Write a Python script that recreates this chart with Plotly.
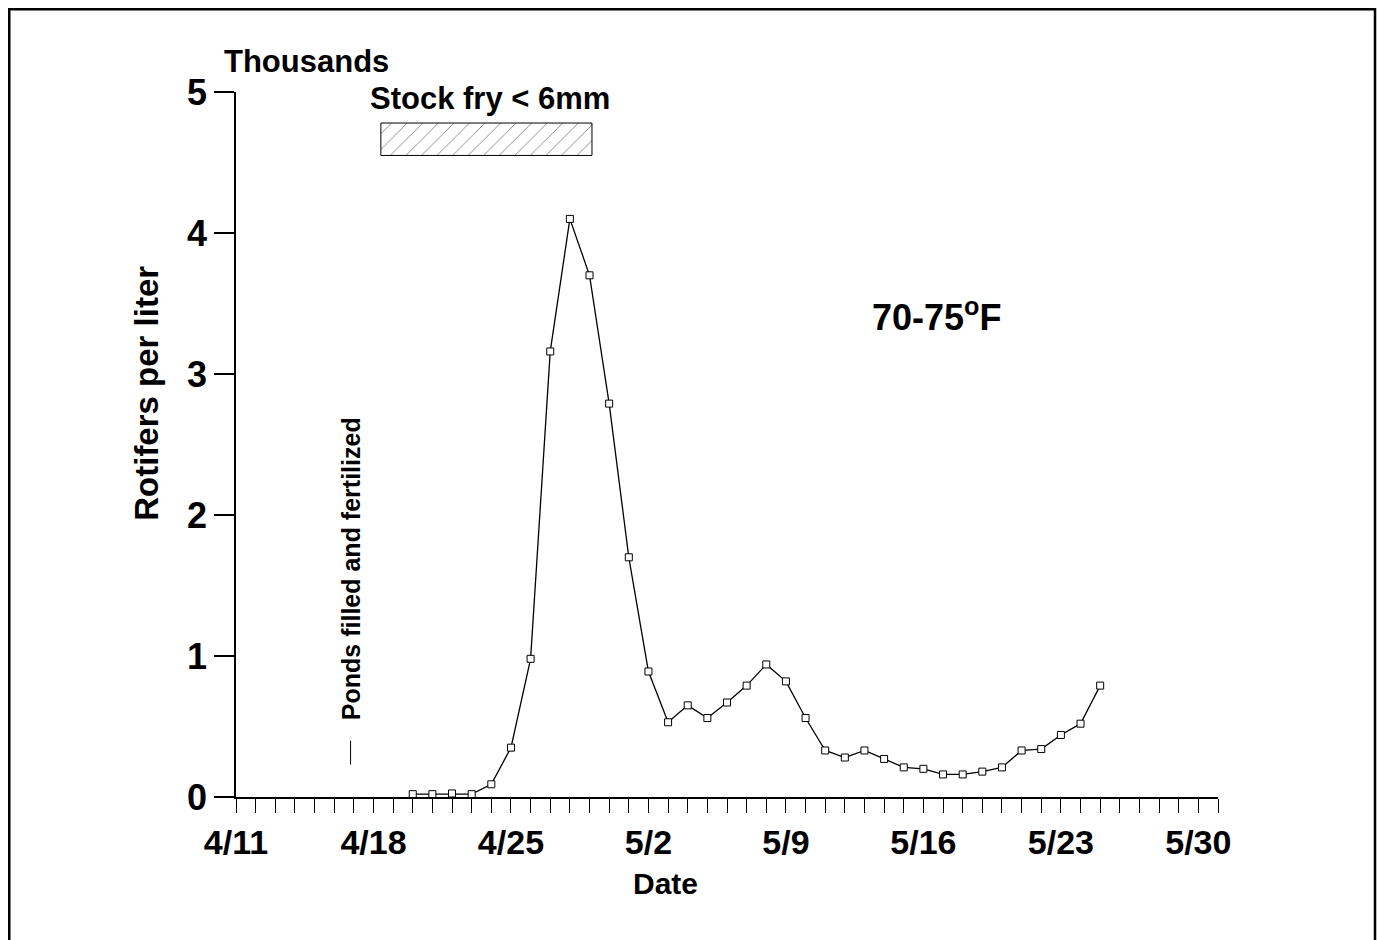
import plotly.graph_objects as go

# ---- data ----
dates = ["2001-04-20", "2001-04-21", "2001-04-22", "2001-04-23", "2001-04-24",
         "2001-04-25", "2001-04-26", "2001-04-27", "2001-04-28", "2001-04-29",
         "2001-04-30", "2001-05-01", "2001-05-02", "2001-05-03", "2001-05-04",
         "2001-05-05", "2001-05-06", "2001-05-07", "2001-05-08", "2001-05-09",
         "2001-05-10", "2001-05-11", "2001-05-12", "2001-05-13", "2001-05-14",
         "2001-05-15", "2001-05-16", "2001-05-17", "2001-05-18", "2001-05-19",
         "2001-05-20", "2001-05-21", "2001-05-22", "2001-05-23", "2001-05-24",
         "2001-05-25"]
rotifers_thousands = [0.02, 0.02, 0.025, 0.02, 0.09,
                      0.35, 0.98, 3.16, 4.10, 3.70,
                      2.79, 1.70, 0.89, 0.53, 0.65,
                      0.56, 0.67, 0.79, 0.94, 0.82,
                      0.56, 0.33, 0.28, 0.33, 0.27,
                      0.21, 0.20, 0.16, 0.16, 0.18,
                      0.21, 0.33, 0.34, 0.44, 0.52,
                      0.79]
x_tick_dates = ["2001-04-11", "2001-04-18", "2001-04-25", "2001-05-02",
                "2001-05-09", "2001-05-16", "2001-05-23", "2001-05-30"]
x_tick_text = ["4/11", "4/18", "4/25", "5/2", "5/9", "5/16", "5/23", "5/30"]
y_tick_vals = [0, 1, 2, 3, 4, 5]
y_tick_text = ["0", "1", "2", "3", "4", "5"]
stock_period = ["2001-04-18 09:00", "2001-04-29 03:00"]
stock_band = [4.55, 4.78]
ponds_filled_date = "2001-04-16 20:00"

FONT = "Liberation Sans, Arial, sans-serif"

fig = go.Figure()

# hatched "stock fry" bar
fig.add_trace(go.Scatter(
    x=[stock_period[0], stock_period[1], stock_period[1], stock_period[0], stock_period[0]],
    y=[stock_band[0], stock_band[0], stock_band[1], stock_band[1], stock_band[0]],
    mode="lines", fill="toself", fillcolor="white",
    fillpattern=dict(shape="/", fgcolor="black", bgcolor="white", size=11, solidity=0.08),
    line=dict(color="black", width=1), hoverinfo="skip", showlegend=False,
))

# data line
fig.add_trace(go.Scatter(
    x=dates, y=rotifers_thousands, mode="lines+markers",
    line=dict(color="black", width=1.3),
    marker=dict(symbol="square", size=7, color="white", line=dict(color="black", width=1)),
    cliponaxis=False, showlegend=False,
))

fig.update_layout(
    width=1378, height=940,
    margin=dict(l=236, r=160, t=92, b=143),
    paper_bgcolor="white", plot_bgcolor="white",
    font=dict(family=FONT, color="black"),
    showlegend=False,
)

fig.update_xaxes(
    type="date", range=["2001-04-11", "2001-05-31"],
    showgrid=False, zeroline=False,
    showline=True, linecolor="black", linewidth=1.5,
    tickmode="array", tickvals=x_tick_dates, ticktext=x_tick_text,
    ticks="outside", ticklen=14, tickwidth=1, tickcolor="black",
    tickfont=dict(family=FONT, size=34, color="black", weight="bold"),
    ticklabelstandoff=0,
    minor=dict(dtick=86400000, ticks="outside", ticklen=14, tickwidth=1, tickcolor="black",
               showgrid=False),
)
fig.update_yaxes(
    range=[0, 5], showgrid=False, zeroline=False,
    showline=True, linecolor="black", linewidth=1.5,
    tickmode="array", tickvals=y_tick_vals, ticktext=y_tick_text,
    ticks="outside", ticklen=20, tickwidth=2, tickcolor="black",
    tickfont=dict(family=FONT, size=36, color="black", weight="bold"),
    ticklabelstandoff=0,
)

# outer frame
fig.add_shape(type="rect", xref="paper", yref="paper",
              x0=-0.2309, x1=1.1599, y0=-0.25, y1=1.1174,
              line=dict(color="black", width=2.5), fillcolor="rgba(0,0,0,0)", layer="below")

# ponds filled marker line
fig.add_shape(type="line", xref="x", yref="y",
              x0=ponds_filled_date, x1=ponds_filled_date, y0=0.23, y1=0.40,
              line=dict(color="black", width=1))

fig.add_annotation(text="Thousands", xref="paper", yref="paper", x=-0.0143, y=1.0426,
                   xanchor="left", yanchor="middle",
                   font=dict(family=FONT, color="black", weight="bold", size=31), showarrow=False)
fig.add_annotation(text="Stock fry &lt; 6mm", xref="paper", yref="paper", x=0.2587, y=0.9905,
                   xanchor="center", yanchor="middle",
                   font=dict(family=FONT, color="black", weight="bold", size=31), showarrow=False)
fig.add_annotation(text="Rotifers per liter", xref="paper", yref="paper", x=-0.0906, y=0.572,
                   xanchor="center", yanchor="middle", textangle=-90,
                   font=dict(family=FONT, color="black", weight="bold", size=33), showarrow=False)
fig.add_annotation(text="Date", xref="paper", yref="paper", x=0.4369, y=-0.1234,
                   xanchor="center", yanchor="middle",
                   font=dict(family=FONT, color="black", weight="bold", size=30), showarrow=False)
fig.add_annotation(text="70-75<sup>o</sup>F", xref="paper", yref="paper", x=0.7138, y=0.6837,
                   xanchor="center", yanchor="middle",
                   font=dict(family=FONT, color="black", weight="bold", size=36), showarrow=False)
fig.add_annotation(text="Ponds filled and fertilized", xref="x", yref="y",
                   x=ponds_filled_date, y=1.62, xanchor="center", yanchor="middle", textangle=-90,
                   font=dict(family=FONT, color="black", weight="bold", size=25), showarrow=False)

# remove the default 8px page margin so the figure fills the window exactly
fig.write_html("out.html",
               config={"displayModeBar": False},
               post_script="document.body.style.margin='0';document.body.style.overflow='hidden';")
